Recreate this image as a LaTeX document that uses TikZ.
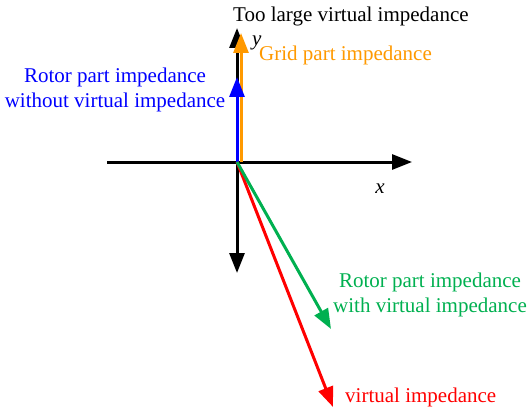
\documentclass[tikz,border=0pt]{standalone}
\usepackage{fontspec}
\setmainfont{Liberation Serif}
\usetikzlibrary{arrows.meta}
\definecolor{myorange}{RGB}{255,153,0}
\definecolor{mygreen}{RGB}{0,176,80}
\begin{document}
\begin{tikzpicture}[x=1pt,y=-1pt,
  vec/.style={line width=3pt,-{Triangle[length=20pt,width=15pt]}},
  lbl/.style={font=\rmfamily\fontsize{21}{25}\selectfont,inner sep=0pt,align=center}]
\useasboundingbox (0,0) rectangle (529,409);
\coordinate (O) at (237,162);
\coordinate (xl) at (107,162);
\coordinate (xr) at (412,162);
\coordinate (yt) at (237,28);
\coordinate (yb) at (237,273);
\coordinate (og) at (241,162);
\coordinate (ot) at (241,33);
\coordinate (bt) at (237,77);
\coordinate (gt) at (331,329);
\coordinate (rt) at (333,407);
\draw[vec,black] (xl) -- (xr);
\draw[vec,black] (O) -- (yt);
\draw[vec,black] (O) -- (yb);
\draw[vec,myorange] (og) -- (ot);
\draw[vec,blue] (O) -- (bt);
\draw[vec,red] (O) -- (rt);
\draw[vec,mygreen] (O) -- (gt);
\node[lbl,anchor=base west] (t1) at (233,22) {Too large virtual impedance};
\node[lbl,anchor=base west] (ty) at (252,46) {\textit{y}};
\node[lbl,anchor=base west,text=myorange] (t2) at (259,61) {Grid part impedance};
\node[lbl,text=blue] (t3) at (115,90) {Rotor part impedance\\without virtual impedance};
\node[lbl,anchor=base] (tx) at (380,193) {\textit{x}};
\node[lbl,text=mygreen] (t4) at (430,295) {Rotor part impedance\\with virtual impedance};
\node[lbl,anchor=base west,text=red] (t5) at (345,402) {virtual impedance};
\end{tikzpicture}
\end{document}
